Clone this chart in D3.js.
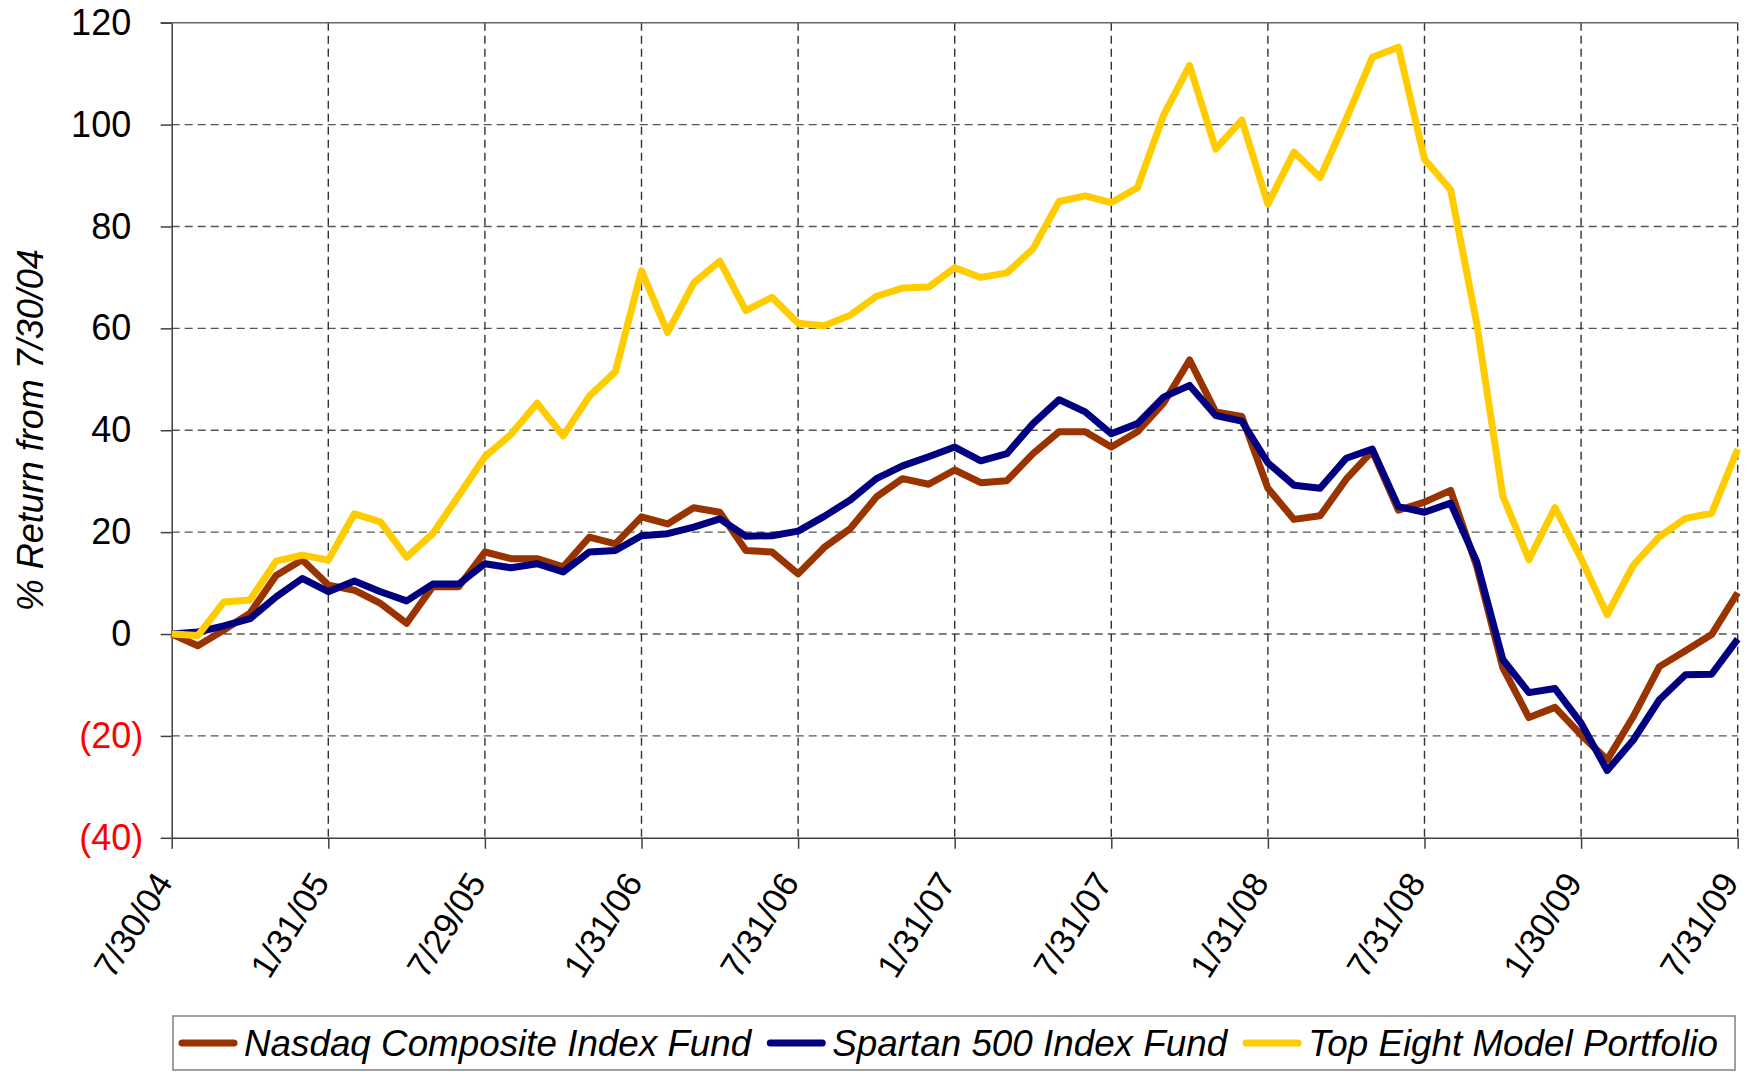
<!DOCTYPE html>
<html>
<head>
<meta charset="utf-8">
<script src="https://cdn.jsdelivr.net/npm/d3@7"></script>
<style>
  body { margin: 0; background: #fff; }
  svg { display: block; font-family: "Liberation Sans", Arial, sans-serif; }
</style>
</head>
<body>
<svg id="chart" width="1754" height="1072"></svg>
<script>
// month index 0..60 (7/30/04 .. 7/31/09), one value per month end
let xTickLabels = ["7/30/04", "1/31/05", "7/29/05", "1/31/06", "7/31/06", "1/31/07",
  "7/31/07", "1/31/08", "7/31/08", "1/30/09", "7/31/09"]
let yTicks = [-40, -20, 0, 20, 40, 60, 80, 100, 120]

let seriesNames = ["Nasdaq Composite Index Fund", "Spartan 500 Index Fund", "Top Eight Model Portfolio"]
let seriesColors = ["#993300", "#000080", "#ffcc00"]

let nasdaq = [0, -2.3, 0.8, 4.1, 11.5, 14.6, 9.6, 8.6, 6.0, 2.1,
  9.3, 9.3, 16.1, 14.8, 14.8, 13.2, 19.0, 17.7, 23.0, 21.6,
  24.8, 23.9, 16.4, 16.1, 11.8, 17.0, 20.7, 26.9, 30.5, 29.4,
  32.2, 29.7, 30.1, 35.4, 39.7, 39.7, 36.7, 39.7, 45.3, 53.8,
  43.6, 42.7, 28.6, 22.5, 23.2, 30.4, 35.9, 24.3, 25.9, 28.2,
  13.3, -6.6, -16.4, -14.4, -19.8, -24.7, -16.2, -6.4, -3.3, -0.1, 8.1]
let spartan = [0, 0.4, 1.6, 3.0, 7.3, 10.9, 8.3, 10.4, 8.3, 6.5,
  9.8, 9.8, 13.8, 13.0, 13.8, 12.2, 16.1, 16.4, 19.3, 19.7,
  21.0, 22.6, 19.2, 19.3, 20.2, 23.1, 26.3, 30.5, 33.0, 34.8,
  36.7, 34.0, 35.4, 41.3, 46.0, 43.6, 39.3, 41.3, 46.5, 48.8,
  42.9, 41.8, 33.6, 29.2, 28.6, 34.5, 36.3, 25.0, 23.9, 25.7,
  14.2, -5.0, -11.5, -10.7, -17.5, -26.8, -20.8, -12.9, -8.0, -7.9, -1.0]
let topEight = [0, -0.3, 6.3, 6.7, 14.3, 15.5, 14.5, 23.6, 22.0, 15.1,
  19.7, 27.2, 34.8, 39.2, 45.3, 38.9, 46.7, 51.5, 71.3, 59.2,
  68.9, 73.2, 63.5, 66.1, 61.0, 60.5, 62.6, 66.3, 67.9, 68.1,
  71.9, 70.0, 70.9, 75.6, 84.9, 86.0, 84.7, 87.6, 101.8, 111.6,
  95.2, 100.9, 84.4, 94.6, 89.6, 101.1, 113.2, 115.2, 93.2, 87.2,
  61.0, 27.1, 14.6, 24.8, 14.8, 3.8, 13.5, 19.1, 22.7, 23.7, 36.3]

let allSeries = [nasdaq, spartan, topEight]

let svg = d3.select("#chart")

let plotLeft = 171.7, plotRight = 1737.7, plotTop = 22.7, plotBottom = 837.8

let x = d3.scaleLinear().domain([0, nasdaq.length - 1]).range([plotLeft, plotRight])
let y = d3.scaleLinear().domain([-40, 120]).range([plotBottom, plotTop])

let xTickIdx = xTickLabels.map((d, i) => i * 6)

// grid
svg.append("g")
  .selectAll("line")
  .data(yTicks.filter(d => d > -40 && d < 120))
  .enter()
  .append("line")
  .attr("x1", plotLeft).attr("x2", plotRight)
  .attr("y1", d => y(d)).attr("y2", d => y(d))
  .attr("stroke", "#555")
  .attr("stroke-width", 1.4)
  .attr("stroke-dasharray", "8,5")

svg.append("g")
  .selectAll("line")
  .data(xTickIdx.filter(d => d > 0))
  .enter()
  .append("line")
  .attr("x1", d => x(d)).attr("x2", d => x(d))
  .attr("y1", plotTop).attr("y2", plotBottom)
  .attr("stroke", "#333")
  .attr("stroke-width", 1.4)
  .attr("stroke-dasharray", "8,5")

// top border
svg.append("line")
  .attr("x1", plotLeft - 11).attr("x2", plotRight)
  .attr("y1", y(120)).attr("y2", y(120))
  .attr("stroke", "#666")
  .attr("stroke-width", 1.4)

// y axis
let yAxis = svg.append("g")
  .attr("transform", `translate(${plotLeft},0)`)
  .call(d3.axisLeft(y).tickValues(yTicks).tickSize(11).tickSizeOuter(0)
    .tickFormat(d => d < 0 ? `(${Math.abs(d)})` : d))
yAxis.select(".domain").attr("stroke", "#404040").attr("stroke-width", 1.5)
yAxis.selectAll(".tick line").attr("stroke", "#404040").attr("stroke-width", 1.5)
yAxis.selectAll(".tick text")
  .attr("font-size", 36)
  .attr("font-family", "Liberation Sans, Arial, sans-serif")
  .attr("fill", d => d < 0 ? "#ff0000" : "#000")
  .attr("x", d => d < 0 ? -28.5 : -40.5)

// x axis
let xAxis = svg.append("g")
  .attr("transform", `translate(0,${plotBottom})`)
  .call(d3.axisBottom(x).tickValues(xTickIdx).tickSize(11).tickSizeOuter(0)
    .tickFormat((d, i) => xTickLabels[i]))
xAxis.select(".domain").attr("stroke", "#404040").attr("stroke-width", 1.5)
xAxis.selectAll(".tick line").attr("stroke", "#404040").attr("stroke-width", 1.5)
xAxis.selectAll(".tick text")
  .attr("font-size", 34.6)
  .attr("font-family", "Liberation Sans, Arial, sans-serif")
  .attr("fill", "#000")
  .attr("x", 0).attr("y", 0).attr("dy", 0)
  .attr("text-anchor", "end")
  .attr("transform", "translate(1.6,44.6) rotate(-58)")

// y title
svg.append("text")
  .attr("transform", `translate(43,${(plotTop + plotBottom) / 2}) rotate(-90)`)
  .attr("text-anchor", "middle")
  .attr("font-size", 36)
  .attr("font-style", "italic")
  .text("% Return from 7/30/04")

// lines
let line = d3.line()
  .x((d, i) => x(i))
  .y(d => y(d))

svg.append("g")
  .selectAll("path")
  .data(allSeries)
  .enter()
  .append("path")
  .attr("d", d => line(d))
  .attr("fill", "none")
  .attr("stroke", (d, i) => seriesColors[i])
  .attr("stroke-width", 7)
  .attr("stroke-linejoin", "round")

// legend
let legend = svg.append("g")
legend.append("rect")
  .attr("x", 173).attr("y", 1016)
  .attr("width", 1562).attr("height", 54)
  .attr("fill", "#fff")
  .attr("stroke", "#808080")
  .attr("stroke-width", 1.5)

let lx = 182
seriesNames.forEach((name, i) => {
  legend.append("line")
    .attr("x1", lx).attr("x2", lx + 52)
    .attr("y1", 1043).attr("y2", 1043)
    .attr("stroke", seriesColors[i])
    .attr("stroke-width", 7)
    .attr("stroke-linecap", "round")
  let t = legend.append("text")
    .attr("x", lx + 62).attr("y", 1056)
    .attr("font-size", 36.8)
    .attr("font-style", "italic")
    .text(name)
  lx = lx + 62 + t.node().getComputedTextLength() + 19
})
</script>
</body>
</html>
